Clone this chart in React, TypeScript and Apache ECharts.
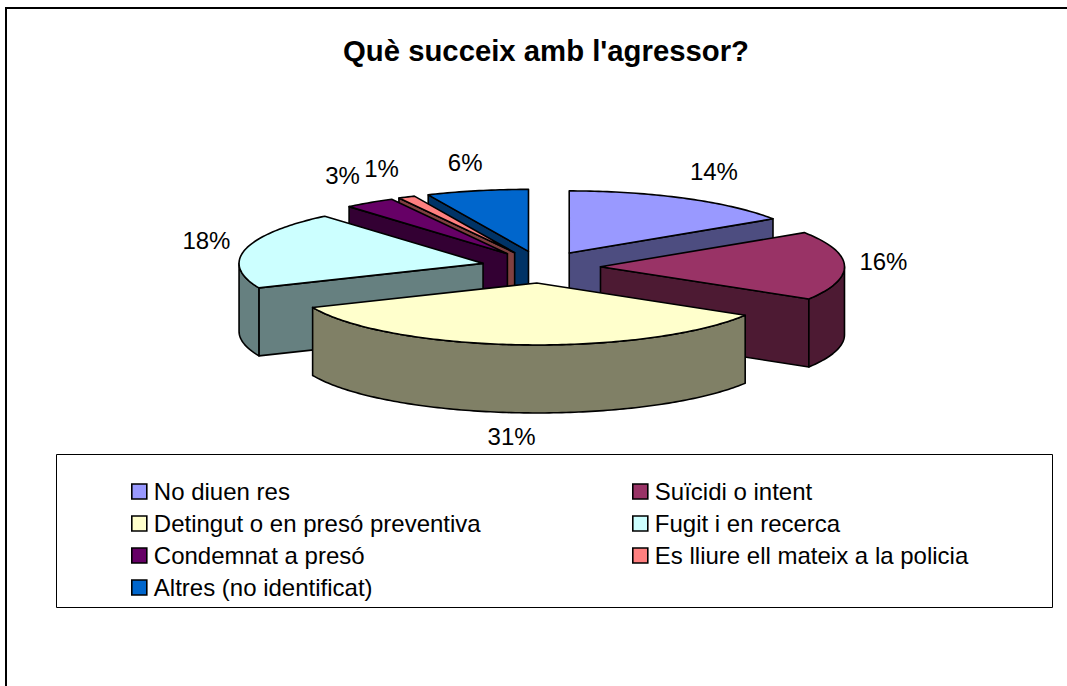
import React, { useEffect, useRef } from "react";
import * as echarts from "echarts";

const TITLE = "Què succeix amb l'agressor?";
const categories = [
  "No diuen res",
  "Suïcidi o intent",
  "Detingut o en presó preventiva",
  "Fugit i en recerca",
  "Condemnat a presó",
  "Es lliure ell mateix a la policia",
  "Altres (no identificat)",
];
const percentages = [14, 16, 31, 18, 3, 1, 6];
const topColors = ["#9999FF", "#993366", "#FFFFCC", "#CCFFFF", "#660066", "#FF8080", "#0066CC"];
const wallColors = ["#4D4D80", "#4D1A33", "#808066", "#668080", "#330033", "#804040", "#003366"];
const paintOrder = [0, 6, 5, 4, 3, 1, 2];
const legendLeftColumn = [0, 2, 4, 6];
const legendRightColumn = [1, 3, 5];

const FONT = "'Liberation Sans', Arial, sans-serif";
const PIE = { cx: 541, cy: 267, rx: 244, ry: 62, depth: 68, explodeX: 59.5, explodeY: 16 };
const LABEL_OFFSETS = [[29, -27], [39, -4], [-8, 24], [-39, -9], [-27, -27], [-25, -29], [-12, -28]];

const total = percentages.reduce((a, b) => a + b, 0);
const startOf = (i: number) => percentages.slice(0, i).reduce((a, b) => a + b, 0);

function renderSlice(index: number) {
  return (_params: any, api: any) => {
    const value = api.value(0) as number;
    const t0 = (startOf(index) / total) * Math.PI * 2;
    const t1 = t0 + (value / total) * Math.PI * 2;
    const mid = (t0 + t1) / 2;
    const ox = PIE.cx + PIE.explodeX * Math.sin(mid);
    const oy = PIE.cy - PIE.explodeY * Math.cos(mid);
    const at = (t: number, dy = 0): number[] => [
      ox + PIE.rx * Math.sin(t),
      oy - PIE.ry * Math.cos(t) + dy,
    ];
    const stroke = { stroke: "#000", lineWidth: 1.6, lineJoin: "round" };
    const children: any[] = [];
    const wall = (pts: number[][]) =>
      children.push({
        type: "polygon",
        shape: { points: pts },
        style: { fill: wallColors[index], ...stroke },
      });
    const apex = [ox, oy];
    const apexLow = [ox, oy + PIE.depth];
    if (Math.sin(t0) < -1e-6) wall([apex, at(t0), at(t0, PIE.depth), apexLow]);
    if (Math.sin(t1) > 1e-6) wall([apex, at(t1), at(t1, PIE.depth), apexLow]);

    const from = Math.max(t0, Math.PI / 2);
    const to = Math.min(t1, Math.PI * 1.5);
    if (to > from) {
      const upper: number[][] = [];
      const lower: number[][] = [];
      const steps = Math.ceil(((to - from) * 180) / Math.PI);
      for (let s = 0; s <= steps; s++) {
        const t = from + ((to - from) * s) / steps;
        upper.push(at(t));
        lower.unshift(at(t, PIE.depth));
      }
      wall([...upper, ...lower]);
    }

    const top: number[][] = [apex];
    const steps = Math.max(2, Math.ceil(((t1 - t0) * 180) / Math.PI));
    for (let s = 0; s <= steps; s++) top.push(at(t0 + ((t1 - t0) * s) / steps));
    children.push({
      type: "polygon",
      shape: { points: top },
      style: { fill: topColors[index], ...stroke },
    });

    const edgeX = PIE.cx + (PIE.explodeX + PIE.rx) * Math.sin(mid);
    const edgeY = PIE.cy - (PIE.explodeY + PIE.ry) * Math.cos(mid) + (Math.cos(mid) < -0.5 ? PIE.depth : 0);
    children.push({
      type: "text",
      style: {
        x: edgeX + LABEL_OFFSETS[index][0],
        y: edgeY + LABEL_OFFSETS[index][1],
        text: `${value}%`,
        fill: "#000",
        font: `24px ${FONT}`,
        textAlign: "center",
        textVerticalAlign: "middle",
      },
    });
    return { type: "group", children };
  };
}

const legendBase = {
  orient: "vertical" as const,
  icon: "rect",
  itemWidth: 15,
  itemHeight: 15,
  itemGap: 7,
  padding: 0,
  selectedMode: false,
  textStyle: { fontFamily: FONT, fontSize: 24, color: "#000", padding: [0, 0, 0, 2], lineHeight: 25 },
  itemStyle: { borderColor: "#000", borderWidth: 1.6 },
};

export default function App() {
  const ref = useRef<HTMLDivElement>(null);
  useEffect(() => {
    const chart = echarts.init(ref.current!, undefined, { renderer: "svg" });
    chart.setOption({
      animation: false,
      backgroundColor: "#fff",
      title: {
        text: TITLE,
        left: 546,
        top: 36,
        textAlign: "center",
        padding: 0,
        textStyle: { fontFamily: FONT, fontSize: 29.3, fontWeight: "bold", color: "#000" },
      },
      legend: [
        { ...legendBase, left: 131, top: 479, data: legendLeftColumn.map((i) => categories[i]) },
        { ...legendBase, left: 632, top: 479, data: legendRightColumn.map((i) => categories[i]) },
      ],
      graphic: [
        { type: "line", shape: { x1: 5, y1: 8, x2: 1067, y2: 8 }, style: { stroke: "#000", lineWidth: 2 } },
        { type: "line", shape: { x1: 6, y1: 7, x2: 6, y2: 686 }, style: { stroke: "#000", lineWidth: 2 } },
        {
          type: "rect",
          z: -1,
          shape: { x: 56.5, y: 454.5, width: 996, height: 153 },
          style: { fill: "#fff", stroke: "#000", lineWidth: 1 },
        },
      ],
      series: paintOrder.map((i, order) => ({
        type: "custom",
        name: categories[i],
        coordinateSystem: "none",
        z: 2 + order,
        silent: true,
        itemStyle: { color: topColors[i] },
        renderItem: renderSlice(i),
        data: [[percentages[i]]],
      })),
    });
    return () => chart.dispose();
  }, []);
  return <div ref={ref} style={{ position: "fixed", left: 0, top: 0, width: 1067, height: 686 }} />;
}
